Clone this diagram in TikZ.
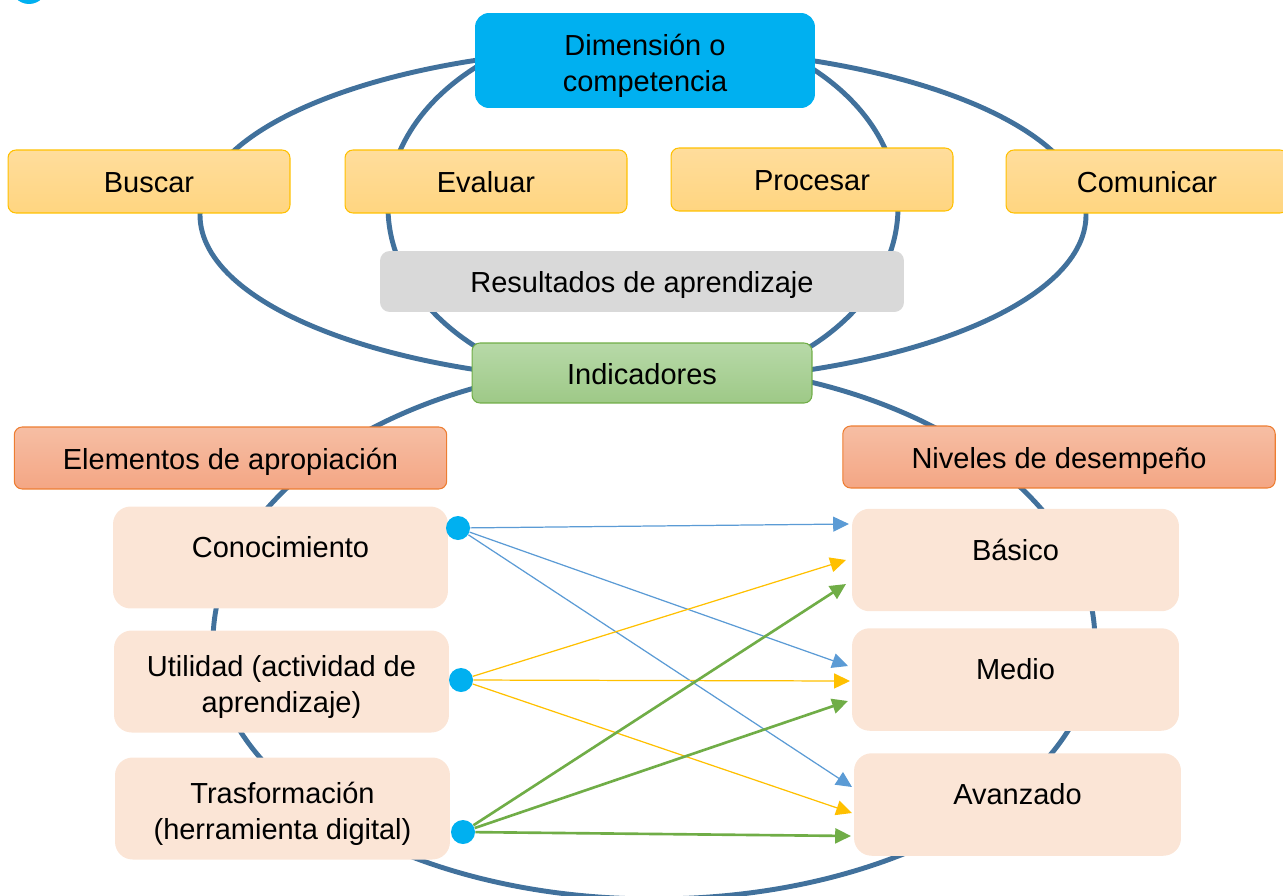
\documentclass[tikz,border=0pt]{standalone}
\usepackage{fontspec}
\setmainfont{Liberation Sans}
\usetikzlibrary{arrows.meta}
\definecolor{ringblue}{RGB}{65,113,156}
\definecolor{dimcyan}{RGB}{0,176,240}
\definecolor{skilltop}{RGB}{255,221,156}
\definecolor{skillbot}{RGB}{255,213,128}
\definecolor{skillline}{RGB}{255,192,0}
\definecolor{resgray}{RGB}{217,217,217}
\definecolor{indtop}{RGB}{183,217,168}
\definecolor{indbot}{RGB}{158,201,135}
\definecolor{indline}{RGB}{112,173,71}
\definecolor{headtop}{RGB}{246,190,164}
\definecolor{headbot}{RGB}{244,166,132}
\definecolor{headline}{RGB}{237,125,49}
\definecolor{peach}{RGB}{251,229,214}
\definecolor{arrblue}{RGB}{91,155,213}
\definecolor{arryellow}{RGB}{255,192,0}
\definecolor{arrgreen}{RGB}{112,173,71}
\newcommand{\firstline}{\rule{0pt}{18pt}}
\tikzset{
  txt/.style={font=\fontsize{16.5}{20.5}\selectfont, align=center, inner sep=0pt},
  single/.style={text height=13pt, text depth=0pt},
  ring/.style={draw=ringblue, line width=2.8pt},
  topbox/.style={txt, fill=dimcyan, rounded corners=8pt, minimum width=6.8cm, minimum height=1.9cm},
  skill/.style={txt, single, draw=skillline, line width=0.6pt, top color=skilltop, bottom color=skillbot, rounded corners=4.5pt, minimum width=5.64cm, minimum height=1.26cm},
  result/.style={txt, single, fill=resgray, rounded corners=5.5pt, minimum width=10.48cm, minimum height=1.22cm},
  indic/.style={txt, single, draw=indline, line width=0.6pt, top color=indtop, bottom color=indbot, rounded corners=4.5pt, minimum width=6.8cm, minimum height=1.2cm},
  head/.style={txt, single, draw=headline, line width=0.6pt, top color=headtop, bottom color=headbot, rounded corners=4.5pt, minimum width=8.65cm, minimum height=1.24cm},
  elem/.style={txt, fill=peach, rounded corners=10pt, minimum width=6.7cm, minimum height=2.04cm},
  level/.style={txt, fill=peach, rounded corners=10pt, minimum width=6.54cm, minimum height=2.05cm},
  raised/.style={text height=13pt, text depth=13pt},
  dot/.style={circle, fill=dimcyan, minimum size=0.48cm, inner sep=0pt},
  arr/.style={-{Triangle[length=9pt,width=8.5pt]}},
  bluearr/.style={arr, draw=arrblue, line width=0.7pt},
  yelarr/.style={arr, draw=arryellow, line width=0.7pt},
  grnarr/.style={arr, draw=arrgreen, line width=1.5pt}
}
\begin{document}
\begin{tikzpicture}[x=0.02cm, y=-0.02cm]
\useasboundingbox (0,0) rectangle (1283,895);
% rings behind the boxes
\draw[ring] (643,215) ellipse [x radius=443, y radius=167];
\draw[ring] (643,207) ellipse [x radius=255, y radius=185];
\draw[ring] (213,642) arc[start angle=180, end angle=360, x radius=441, y radius=278]
  arc[start angle=0, end angle=180, x radius=441, y radius=257];
\fill[dimcyan] (29,-14) circle (18);

% upper part
\node[topbox] (dim) at (645,60.5) {\firstline Dimensión o\\competencia};
\node[skill] (buscar) at (149,181.5) {Buscar};
\node[skill] (evaluar) at (486,181.5) {Evaluar};
\node[skill] (procesar) at (812,179.5) {Procesar};
\node[skill] (comunicar) at (1147,181.5) {Comunicar};
\node[result] (result) at (642,281.5) {Resultados de aprendizaje};
\node[indic] (indic) at (642,373) {Indicadores};

% lower part
\node[head] (elementos) at (230.5,458) {Elementos de apropiación};
\node[head] (niveles) at (1059,457) {Niveles de desempeño};
\node[elem, raised] (conoc) at (280.5,557.5) {Conocimiento};
\node[elem] (util) at (281.5,681.5) {\firstline Utilidad (actividad de\\aprendizaje)};
\node[elem] (trans) at (282.5,808.5) {\firstline Trasformación\\(herramienta digital)};
\node[level, raised] (basico) at (1015.5,560) {Básico};
\node[level, raised] (medio) at (1015.5,679.5) {Medio};
\node[level, raised] (avanz) at (1017.5,804.5) {Avanzado};

\node[dot] (d1) at (458,528) {};
\node[dot] (d2) at (461,680) {};
\node[dot] (d3) at (463,832) {};

% arrow ends in front of the levels
\coordinate (bas-a) at (849,524);
\coordinate (bas-b) at (846,560);
\coordinate (bas-c) at (846,584);
\coordinate (med-a) at (848,666);
\coordinate (med-b) at (850,681);
\coordinate (med-c) at (848,701);
\coordinate (ava-a) at (852,787);
\coordinate (ava-b) at (852,813);
\coordinate (ava-c) at (851,836);

\draw[bluearr] (d1) -- (bas-a);
\draw[bluearr] (d1) -- (med-a);
\draw[bluearr] (d1) -- (ava-a);
\draw[yelarr] (d2) -- (bas-b);
\draw[yelarr] (d2) -- (med-b);
\draw[yelarr] (d2) -- (ava-b);
\draw[grnarr] (d3) -- (bas-c);
\draw[grnarr] (d3) -- (med-c);
\draw[grnarr] (d3) -- (ava-c);
\end{tikzpicture}
\end{document}
